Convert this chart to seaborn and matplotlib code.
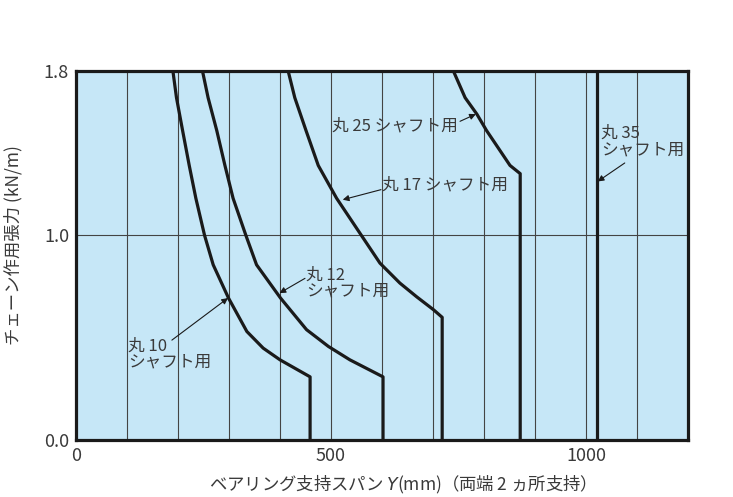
import matplotlib
matplotlib.use("Agg")
import matplotlib.pyplot as plt
import seaborn as sns
import pandas as pd

# curves: bearing span (mm) vs chain tension (kN/m)
span_10 = [190, 197, 209, 222, 235, 252, 269, 299, 335, 367, 400, 459, 459]
tension_10 = [1.80, 1.67, 1.51, 1.34, 1.18, 1.00, 0.856, 0.694, 0.531, 0.45, 0.393, 0.31, 0.0]

span_12 = [248, 259, 276, 292, 308, 333, 354, 401, 452, 495, 537, 602, 602]
tension_12 = [1.80, 1.67, 1.51, 1.34, 1.18, 1.00, 0.856, 0.694, 0.54, 0.458, 0.393, 0.31, 0.0]

span_17 = [416, 429, 451, 475, 511, 554, 596, 635, 668, 701, 718, 718]
tension_17 = [1.80, 1.67, 1.51, 1.34, 1.18, 1.02, 0.864, 0.767, 0.70, 0.637, 0.60, 0.0]

span_25 = [740, 763, 786, 805, 828, 851, 871, 871]
tension_25 = [1.80, 1.67, 1.59, 1.51, 1.425, 1.34, 1.30, 0.0]

span_35 = [1022, 1022]
tension_35 = [1.80, 0.0]

x_ticks = [0, 500, 1000]
y_ticks = [0.0, 1.0, 1.8]
y_tick_labels = ["0.0", "1.0", "1.8"]

sns.set_style("white")
plt.rcParams["font.family"] = ["Noto Sans CJK JP", "DejaVu Sans"]

txt = "#3a3a3a"
bg = "#c6e7f7"

fig = plt.figure(figsize=(7.33, 4.97), dpi=100)
ax = fig.add_axes([0.1037, 0.1137, 0.8349, 0.7434])
ax.set_facecolor(bg)

frames = []
for name, xs, ys in [("10", span_10, tension_10), ("12", span_12, tension_12),
                     ("17", span_17, tension_17), ("25", span_25, tension_25),
                     ("35", span_35, tension_35)]:
    frames.append(pd.DataFrame({"span": xs, "tension": ys, "shaft": name}))
df = pd.concat(frames, ignore_index=True)

# grid: vertical every 100 mm, one horizontal at 1.0
for gx in range(100, 1200, 100):
    ax.axvline(gx, color="#444444", lw=0.8, zorder=1)
ax.axhline(1.0, color="#444444", lw=0.8, zorder=1)

sns.lineplot(data=df, x="span", y="tension", units="shaft", estimator=None,
             sort=False, color="#1a1a1a", lw=2.3, ax=ax, zorder=3,
             solid_joinstyle="round")

ax.set_xlim(0, 1200)
ax.set_ylim(0, 1.8)
ax.set_xticks(x_ticks)
ax.set_yticks(y_ticks)
ax.set_yticklabels(y_tick_labels)
ax.tick_params(length=0, labelsize=13, colors=txt, pad=5)
for s in ax.spines.values():
    s.set_visible(True)
    s.set_color("#1a1a1a")
    s.set_linewidth(2.3)
ax.set_xlabel("ベアリング支持スパン $\\it{Y}$(mm)（両端 2 ヵ所支持）", fontsize=12.5,
              color=txt)
ax.xaxis.set_label_coords(0.527, -0.088)
ax.set_ylabel("チェーン作用張力 (kN/m)", fontsize=12.5, color=txt)
ax.yaxis.set_label_coords(-0.088, 0.53)

# labels and their pointer arrows (tail -> point on curve)
fs = 12
labels = [
    ("丸 10\nシャフト用", 102, 0.42, (188, 0.489), (298, 0.694)),
    ("丸 12\nシャフト用", 451, 0.765, (449, 0.79), (399, 0.718)),
    ("丸 17 シャフト用", 600, 1.246, (598, 1.222), (523, 1.173)),
    ("丸 25 シャフト用", 501, 1.534, (753, 1.555), (784, 1.59)),
    ("丸 35\nシャフト用", 1030, 1.456, (1076, 1.352), (1023, 1.262)),
]
for text, tx, ty, tail, head in labels:
    ax.text(tx, ty, text, fontsize=fs, color=txt, ha="left", va="center",
            linespacing=0.92, zorder=4)
    ax.annotate("", xy=head, xytext=tail,
                arrowprops=dict(arrowstyle="-|>", color="#1a1a1a", lw=0.8,
                                mutation_scale=9, shrinkA=0, shrinkB=0),
                zorder=4)

fig.savefig("out.png", dpi=100, facecolor="white")
